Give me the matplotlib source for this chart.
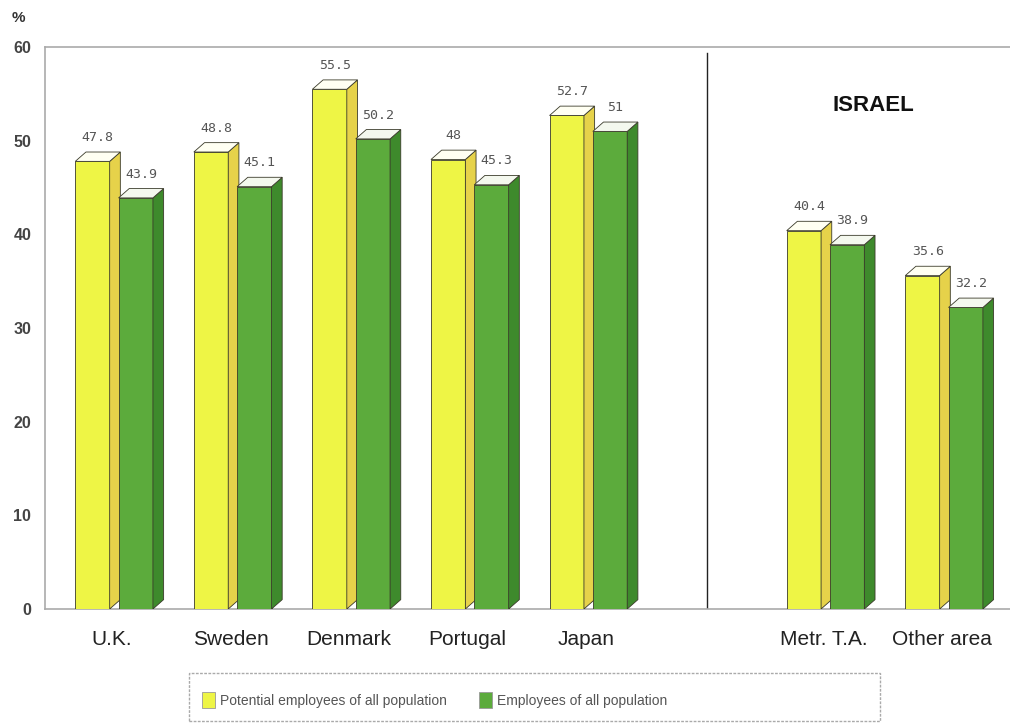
import matplotlib
matplotlib.use("Agg")
import matplotlib.pyplot as plt
from matplotlib.patches import Polygon, Patch, Rectangle

categories = ["U.K.", "Sweden", "Denmark", "Portugal", "Japan", "Metr. T.A.", "Other area"]
positions = [0, 1, 2, 3, 4, 6, 7]
potential = [47.8, 48.8, 55.5, 48, 52.7, 40.4, 35.6]
employees = [43.9, 45.1, 50.2, 45.3, 51, 38.9, 32.2]
potential_labels = ["47.8", "48.8", "55.5", "48", "52.7", "40.4", "35.6"]
employees_labels = ["43.9", "45.1", "50.2", "45.3", "51", "38.9", "32.2"]
series_names = ["Potential employees of all population", "Employees of all population"]

fig = plt.figure(figsize=(10.1, 7.25), dpi=100)
ax = fig.add_axes([0.0446, 0.16, 0.955, 0.775])

W = 0.29
DX = 0.09
DY = 1.0
off_y = -0.33
off_g = 0.035

styles = [
    dict(front="#eef545", side="#e6d24a", top="#fffff2"),
    dict(front="#5cab3c", side="#3e8a2c", top="#f4f8ee"),
]
edge = "#3a3a2a"

def draw3d(xs, vals, labels, st):
    bars = ax.bar(xs, vals, width=W, align="edge", color=st["front"],
                  edgecolor=edge, linewidth=0.6, zorder=3)
    for b, v, lab in zip(bars, vals, labels):
        x0 = b.get_x()
        x1 = x0 + b.get_width()
        side = Polygon([(x1, 0), (x1 + DX, DY), (x1 + DX, v + DY), (x1, v)],
                       closed=True, facecolor=st["side"], edgecolor=edge,
                       linewidth=0.6, zorder=3)
        top = Polygon([(x0, v), (x1, v), (x1 + DX, v + DY), (x0 + DX, v + DY)],
                      closed=True, facecolor=st["top"], edgecolor=edge,
                      linewidth=0.6, zorder=4)
        ax.add_patch(side)
        ax.add_patch(top)
        ax.text((x0 + x1 + DX) / 2, v + DY + 0.85, lab, ha="center", va="bottom",
                fontsize=9.5, family="DejaVu Sans Mono", color="#555555", zorder=5)

draw3d([p + off_y for p in positions], potential, potential_labels, styles[0])
draw3d([p + off_g for p in positions], employees, employees_labels, styles[1])

ax.set_xlim(-0.585, 7.55)
ax.set_ylim(0, 60)
ax.set_yticks(range(0, 61, 10))
ax.set_yticklabels([str(t) for t in range(0, 61, 10)], fontsize=11.5,
                   fontweight="bold", color="#444444", family="Liberation Sans")
ax.set_xticks([p - 0.02 for p in positions])
ax.set_xticklabels(categories, fontsize=15, color="#222222", family="Liberation Sans")
ax.tick_params(axis="both", length=0)
ax.tick_params(axis="x", pad=15)
ax.tick_params(axis="y", pad=10)

for s in ["left", "top", "bottom"]:
    ax.spines[s].set_color("#aaaaaa")
    ax.spines[s].set_linewidth(1.2)
ax.spines["right"].set_visible(False)

ax.axvline(5.0, ymin=0, ymax=0.99, color="#222222", linewidth=1.0, zorder=2)
ax.text(6.4, 53.8, "ISRAEL", ha="center", va="center", fontsize=16,
        fontweight="bold", family="Liberation Sans", color="#111111")

fig.text(0.012, 0.975, "%", fontsize=11, fontweight="bold", color="#333333",
         family="Liberation Sans", va="center")

handles = [Patch(facecolor=styles[0]["front"], edgecolor="#999999", linewidth=0.6),
           Patch(facecolor=styles[1]["front"], edgecolor="#999999", linewidth=0.6)]
leg = fig.legend(handles, series_names, loc="center left", bbox_to_anchor=(0.2, 0.0345),
                 ncol=2, frameon=False,
                 prop=dict(family="Liberation Sans", size=10),
                 handlelength=0.95, handleheight=1.3, handletextpad=0.36,
                 columnspacing=2.3, borderpad=0, borderaxespad=0)
for t in leg.get_texts():
    t.set_color("#555555")

frame = Rectangle((0.187, 0.0055), 0.684, 0.066, transform=fig.transFigure,
                  facecolor="none", edgecolor="#aaaaaa", linewidth=1.0,
                  linestyle=(0, (2, 1)))
fig.patches.append(frame)

fig.savefig("out.png", dpi=100)
